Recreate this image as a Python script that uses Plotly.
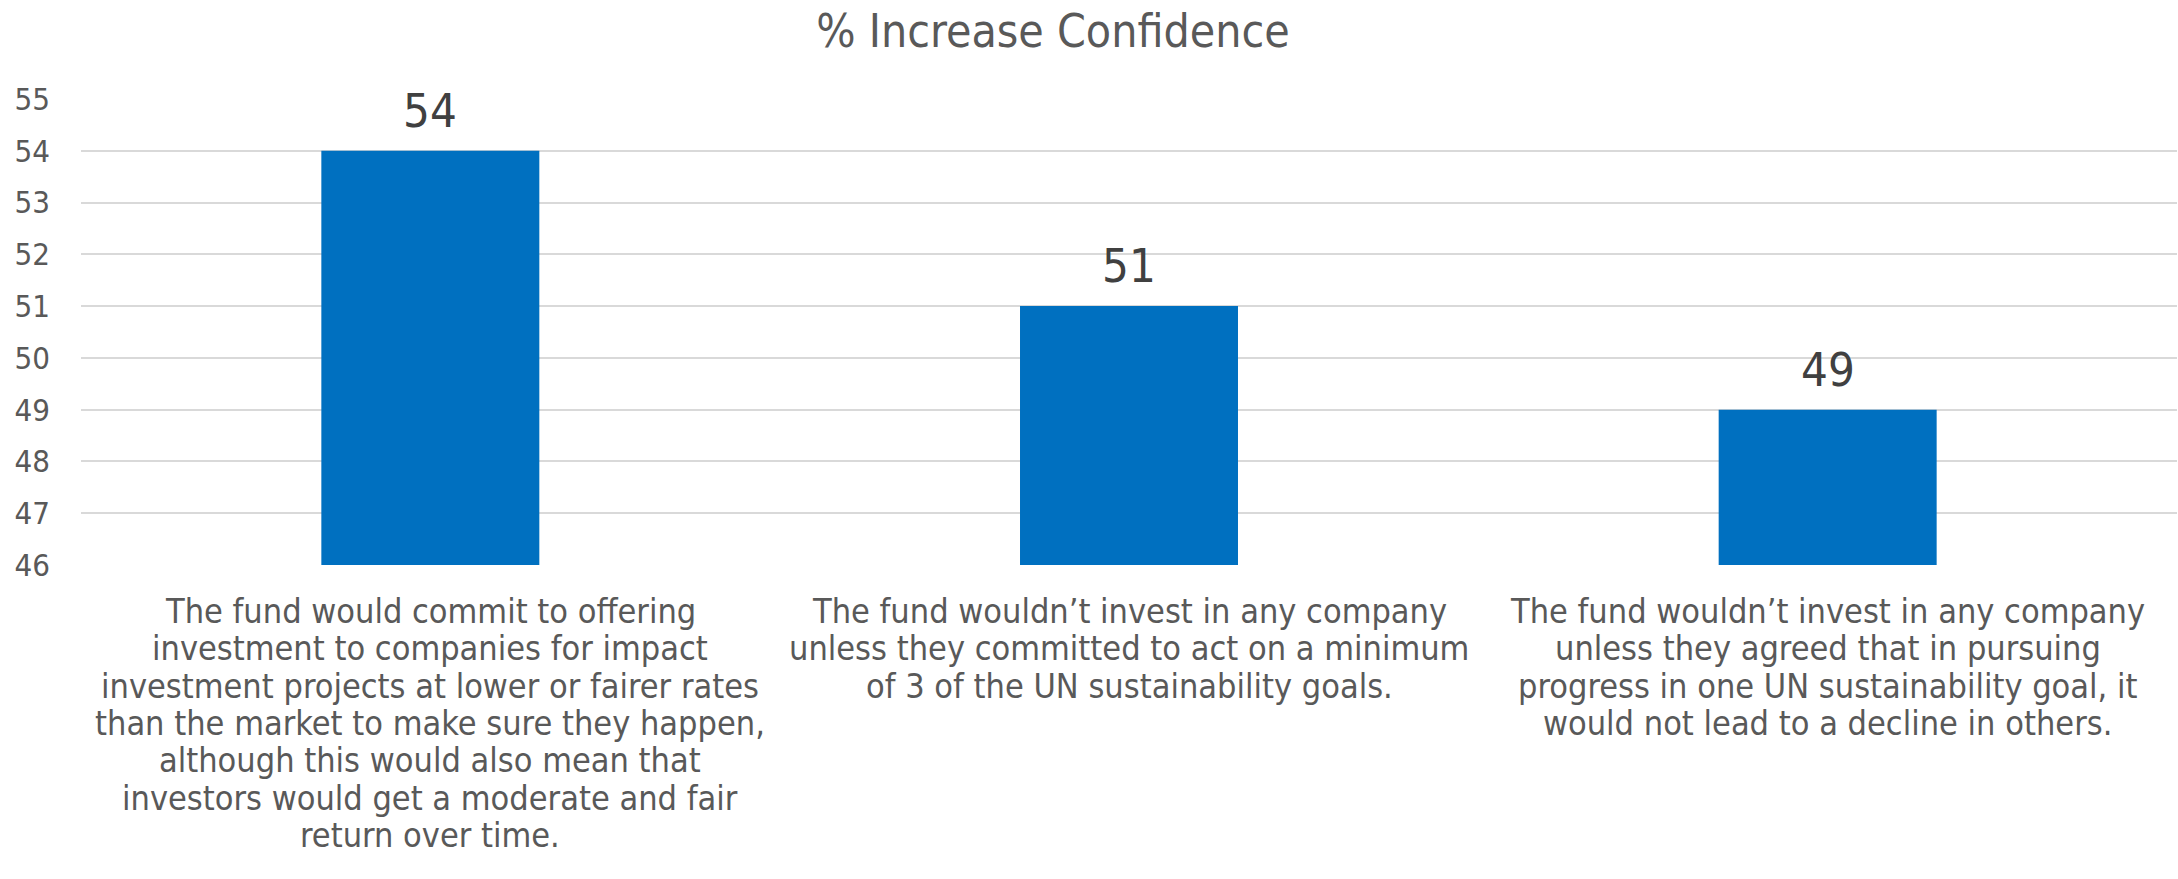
import plotly.graph_objects as go

# Survey statements (one list entry per wrapped line) and their scores
statements = [
    ["The fund would commit to offering",
     "investment to companies for impact",
     "investment projects at lower or fairer rates",
     "than the market to make sure they happen,",
     "although this would also mean that",
     "investors would get a moderate and fair",
     "return over time."],
    ["The fund wouldn\u2019t invest in any company",
     "unless they committed to act on a minimum",
     "of 3 of the UN sustainability goals."],
    ["The fund wouldn\u2019t invest in any company",
     "unless they agreed that in pursuing",
     "progress in one UN sustainability goal, it",
     "would not lead to a decline in others."],
]
scores = [54, 51, 49]
y_ticks = [46, 47, 48, 49, 50, 51, 52, 53, 54, 55]
title_text = "% Increase Confidence"

FONT = "Liberation Sans Narrow, Arial Narrow, DejaVu Sans Condensed, sans-serif"
GREY = "#595959"

cats = ["s1", "s2", "s3"]

fig = go.Figure(
    go.Bar(
        x=cats,
        y=scores,
        base=0,
        width=0.312,
        marker=dict(color="#0070C0", line=dict(width=0)),
        cliponaxis=False,
        hoverinfo="x+y",
    )
)

annotations = []

# Value labels above each bar
for cat, v in zip(cats, scores):
    annotations.append(dict(
        x=cat, xref="x", y=v, yref="y",
        text=str(v), showarrow=False,
        xanchor="center", yanchor="bottom", yshift=11,
        font=dict(family=FONT, size=47, color="#404040"),
    ))

# Wrapped category labels below the axis, one annotation per line
line_step = 37.3
for cat, lines in zip(cats, statements):
    for i, line in enumerate(lines):
        annotations.append(dict(
            x=cat, xref="x", y=0, yref="paper",
            text=line, showarrow=False,
            yanchor="middle", xanchor="center",
            yshift=-(46 + i * line_step),
            font=dict(family=FONT, size=34, color=GREY),
        ))

fig.update_layout(
    width=2178,
    height=879,
    margin=dict(l=81, r=1, t=99, b=314),
    paper_bgcolor="white",
    plot_bgcolor="white",
    showlegend=False,
    title=dict(
        text=title_text,
        x=1053 / 2178, xref="container", xanchor="center",
        y=1 - 31 / 879, yanchor="middle",
        font=dict(family=FONT, size=46, color=GREY),
    ),
    xaxis=dict(
        type="category",
        showticklabels=False,
        showgrid=False,
        showline=False,
        zeroline=False,
        ticks="",
    ),
    yaxis=dict(
        range=[46, 55],
        tickvals=y_ticks,
        ticktext=[str(t) for t in y_ticks],
        showgrid=True,
        gridcolor="#D9D9D9",
        gridwidth=2,
        zeroline=False,
        showline=False,
        ticks="",
        ticklabelstandoff=30,
        tickfont=dict(family=FONT, size=31, color=GREY),
    ),
    annotations=annotations,
)

fig.write_html("out.html")
